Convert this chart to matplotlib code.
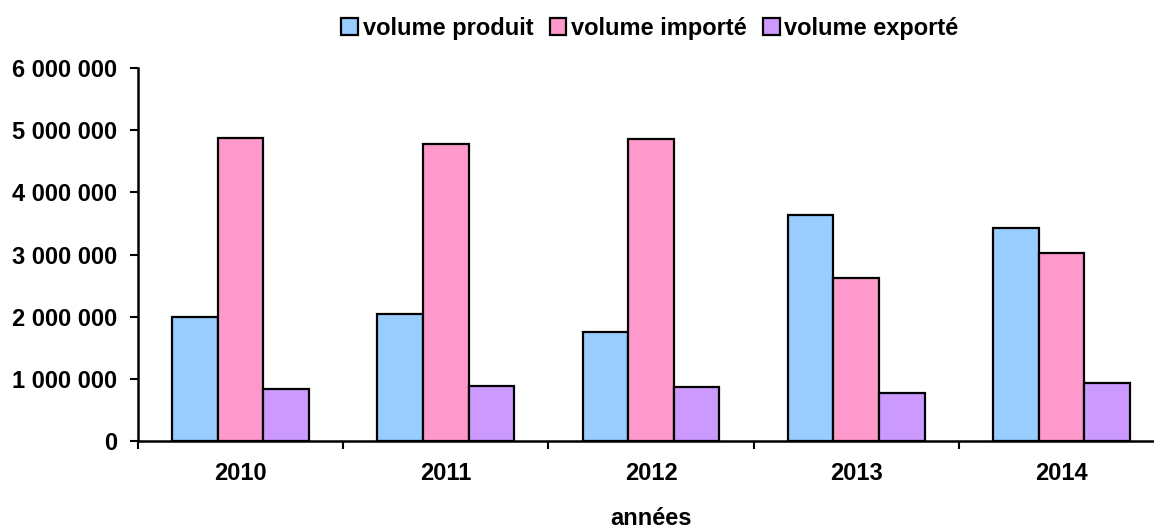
import numpy as np
from matplotlib import pyplot as plt
from matplotlib.ticker import FixedLocator, NullFormatter

plt.rcParams['font.family'] = ['Liberation Sans', 'DejaVu Sans']
plt.rcParams['font.weight'] = 'bold'

years = ['2010', '2011', '2012', '2013', '2014']
produit = [2000000, 2040000, 1760000, 3640000, 3420000]
importe = [4870000, 4770000, 4860000, 2620000, 3020000]
exporte = [840000, 880000, 870000, 770000, 930000]
series_names = ['volume produit', 'volume importé', 'volume exporté']
y_ticks = [0, 1000000, 2000000, 3000000, 4000000, 5000000, 6000000]

colors = ['#99CCFF', '#FF99CC', '#CC99FF']

fig = plt.figure(figsize=(11.54, 5.30), dpi=100)
ax = fig.add_axes([138 / 1154, 89 / 530, 1026 / 1154, 373 / 530])

x = np.arange(len(years))
width = 1 / 4.5
for i, vals in enumerate([produit, importe, exporte]):
    ax.bar(x + (i - 1) * width, vals, width, color=colors[i],
           edgecolor='black', linewidth=1.6, label=series_names[i])

ax.set_xlim(-0.5, len(years) - 0.5)
ax.set_ylim(0, 6000000)

ax.set_yticks(y_ticks)
ax.set_yticklabels(['{:,}'.format(v).replace(',', ' ') for v in y_ticks])
ax.xaxis.set_major_locator(FixedLocator(np.arange(len(years) + 1) - 0.5))
ax.xaxis.set_major_formatter(NullFormatter())
ax.set_xticks(x, minor=True)
ax.set_xticklabels(years, minor=True)
ax.tick_params(axis='x', which='minor', length=0, pad=15, labelsize=17)
ax.tick_params(axis='x', which='major', length=6, width=1.5, direction='out')
ax.tick_params(axis='y', length=6, width=1.5, pad=9, labelsize=17)

for s in ['top', 'right']:
    ax.spines[s].set_visible(False)
for s in ['left', 'bottom']:
    ax.spines[s].set_linewidth(1.8)

ax.set_xlabel('années', fontsize=17, fontweight='bold', labelpad=16)

ax.legend(loc='center', bbox_to_anchor=(650 / 1154, 1 - 28 / 530),
          bbox_transform=fig.transFigure, ncol=3, frameon=False,
          fontsize=17, handlelength=0.7, handleheight=0.7,
          handletextpad=0.2, columnspacing=0.7)

fig.savefig('out.png', dpi=100)
